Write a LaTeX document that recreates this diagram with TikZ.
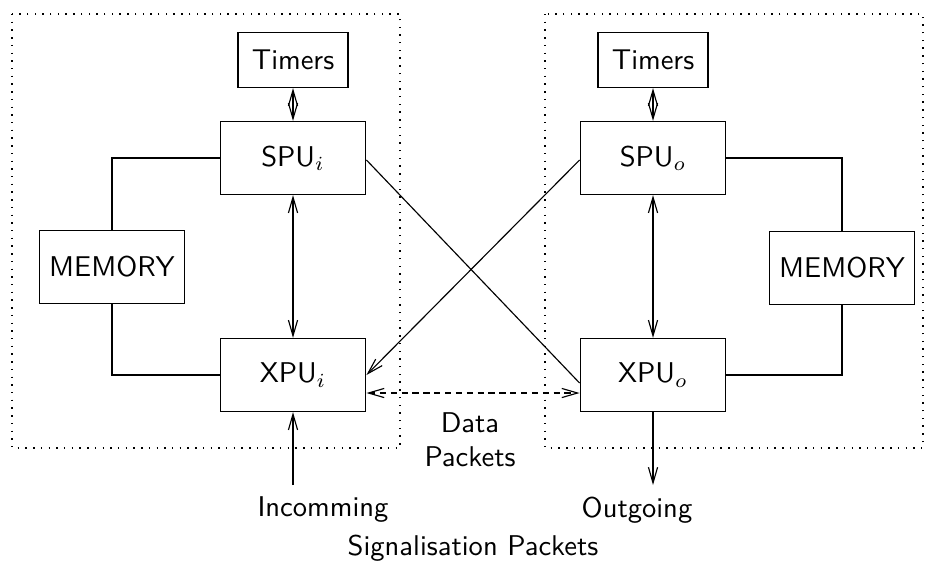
\documentclass[tikz,border=0pt]{standalone}
\usetikzlibrary{arrows.meta}

\tikzset{
  unit/.style={draw, minimum width=51pt, minimum height=25.6pt, inner sep=0pt},
  timerbox/.style={draw, minimum width=38.5pt, minimum height=19.3pt, inner sep=0pt},
  label/.style={inner sep=0pt, align=center},
  frame/.style={dash pattern=on 0.5pt off 2.2pt},
  datalink/.style={dash pattern=on 2.2pt off 1.6pt},
  >={Straight Barb[length=5.5pt,width=3.2pt]}
}

\begin{document}
\begin{tikzpicture}[x=0.35pt, y=-0.35pt, font=\sffamily]
		%%%%% START %%%%%
		\useasboundingbox (0,0) rectangle (926,562);
		
		% incoming side
		\draw[frame] (12,14) rectangle (400,448);
		\node[timerbox] (timi) at (293,60) {Timers};
		\node[unit] (spui) at (293,158) {SPU$_i$};
		\node[unit] (xpui) at (293,375) {XPU$_i$};
		\node[unit] (memi) at (112,267) {MEMORY};
		
		% outgoing side
		\draw[frame] (545,14) rectangle (923,448);
		\node[timerbox] (timo) at (653,60) {Timers};
		\node[unit] (spuo) at (653,158) {SPU$_o$};
		\node[unit] (xpuo) at (653,375) {XPU$_o$};
		\node[unit] (memo) at (842,268) {MEMORY};
		
		\draw[<->] (timi) -- (spui);
		\draw[<->] (spui) -- (xpui);
		\draw (spui.west) -| (memi.north);
		\draw (memi.south) |- (xpui.west);
		
		\draw[<->] (timo) -- (spuo);
		\draw[<->] (spuo) -- (xpuo);
		\draw (spuo.east) -| (memo.north);
		\draw (memo.south) |- (xpuo.west -| xpuo.east);
		
		% crossing links
		\draw ([yshift=-0.7pt]spui.east) -- ([yshift=-2.8pt]xpuo.west);
		\draw[->] ([yshift=-0.7pt]spuo.west) -- (xpui.east);
		\draw[datalink, <->] ([yshift=-6.3pt]xpui.east) -- ([yshift=-6.3pt]xpuo.west);
		\node[label] (data) at (470,440) {Data\\Packets};
		
		% signalisation
		\coordinate (inc) at (xpui.south |- 0,485);
		\coordinate (outg) at (xpuo.south |- 0,485);
		\draw[->] (inc) -- (xpui.south);
		\draw[->] (xpuo.south) -- (outg);
		\node[label] (inlabel) at (323,510) {Incomming};
		\node[label] (outlabel) at (637,510) {Outgoing};
		\node[label] (siglabel) at (473,548) {Signalisation Packets};
		%%%%% END %%%%%
\end{tikzpicture}
\end{document}
